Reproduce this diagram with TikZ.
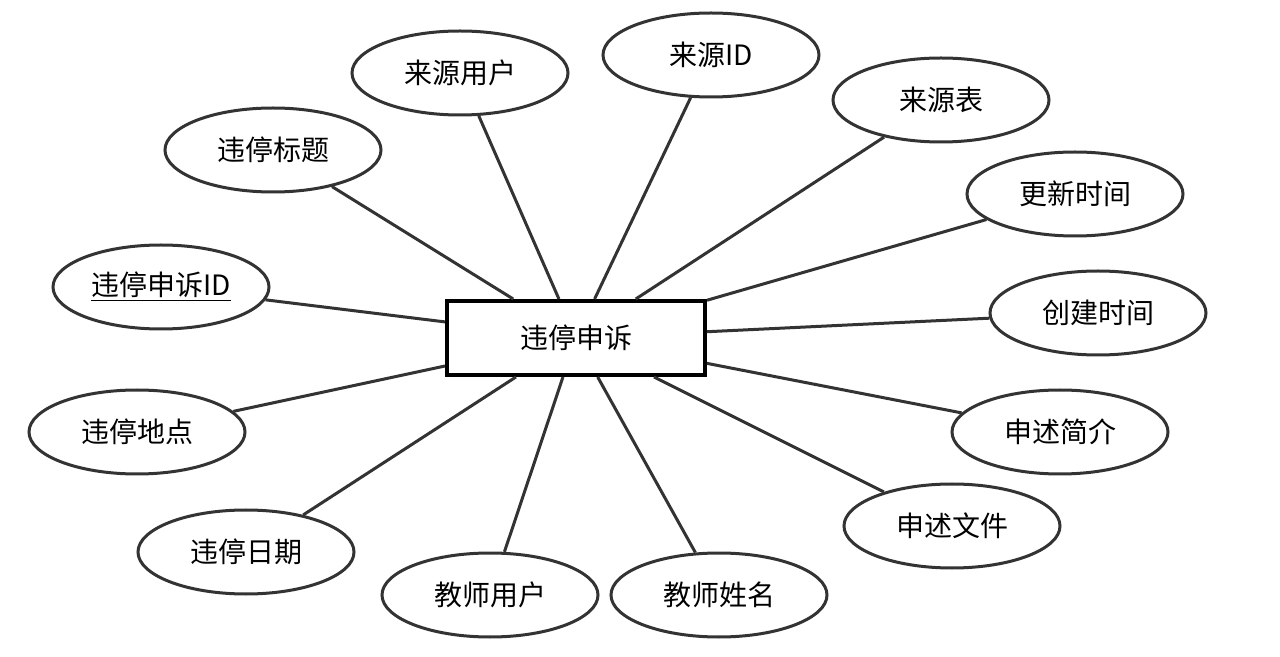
\documentclass[tikz,border=0pt]{standalone}
\usepackage{fontspec}
\setmainfont{Noto Sans CJK SC}
\usetikzlibrary{shapes.geometric}
\definecolor{linegray}{HTML}{333333}
\tikzset{
  attr/.style={ellipse, draw=linegray, line width=1.5pt, fill=white, minimum width=108pt, minimum height=42pt, inner sep=0pt, font=\fontsize{14pt}{17pt}\selectfont},
  entity/.style={rectangle, draw=black, line width=2pt, fill=white, minimum width=129pt, minimum height=37pt, inner sep=0pt, font=\fontsize{14pt}{17pt}\selectfont},
  conn/.style={draw=linegray, line width=1.5pt}
}
\begin{document}
\begin{tikzpicture}[x=0.5pt,y=-0.5pt]
\useasboundingbox[fill=white] (0,0) rectangle (1280,657);
\node[entity] (c) at (576,338) {违停申诉};
\node[attr] (a1) at (460,73) {来源用户};
\node[attr] (a2) at (711,55) {来源ID};
\node[attr] (a3) at (941,100) {来源表};
\node[attr] (a4) at (1075,194) {更新时间};
\node[attr] (a5) at (1098,313) {创建时间};
\node[attr] (a6) at (1060,432) {申述简介};
\node[attr] (a7) at (952,526) {申述文件};
\node[attr] (a8) at (719,595) {教师姓名};
\node[attr] (a9) at (490,595) {教师用户};
\node[attr] (a10) at (246,552) {违停日期};
\node[attr] (a11) at (137,432) {违停地点};
\node[attr] (a12) at (161,287) {\underline{违停申诉ID}};
\node[attr] (a13) at (273,150) {违停标题};
\foreach \i in {1,...,13} {
  \draw[conn] (c) -- (a\i);
}
\end{tikzpicture}
\end{document}
